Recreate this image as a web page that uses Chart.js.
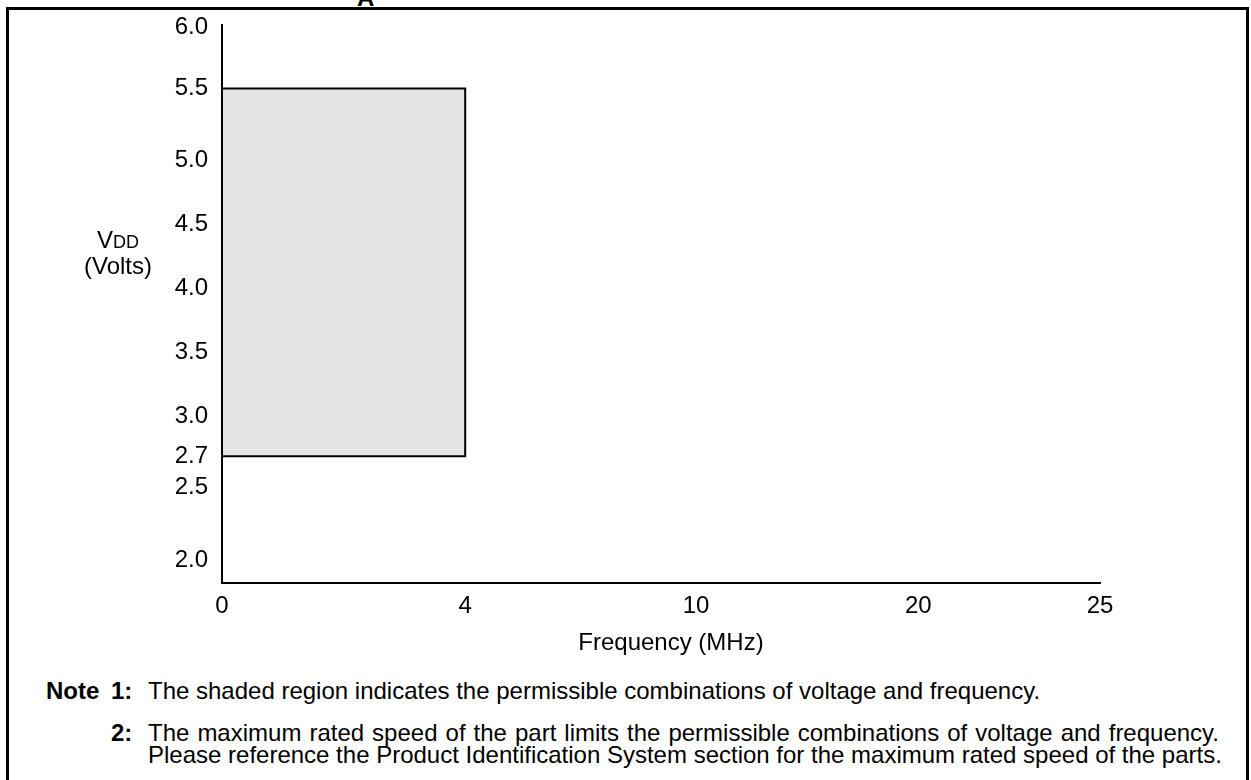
<!DOCTYPE html>
<html>
<head>
<meta charset="utf-8">
<script src="https://cdn.jsdelivr.net/npm/chart.js@4.4.1/dist/chart.umd.min.js"></script>
<style>
  html, body { margin: 0; padding: 0; background: #fff; }
  body { width: 1251px; height: 780px; overflow: hidden; position: relative;
         font-family: "Liberation Sans", Arial, sans-serif; color: #000; }
  #frame { position: absolute; left: 6px; top: 7px; width: 1243px; height: 820px;
           border: 3px solid #000; box-sizing: border-box; }
  #cut { position: absolute; left: 357px; top: -16px; font-size: 24px; font-weight: bold; }
  #wrap { position: absolute; left: 0; top: 0; width: 1251px; height: 660px; }
  #ylab { position: absolute; left: 78px; top: 228px; width: 80px; text-align: center;
          font-size: 24px; line-height: 24px; }
  #ylab small { font-size: 18px; }
  #xlab { position: absolute; left: 571px; top: 629px; width: 200px; text-align: center;
          font-size: 24px; line-height: 26px; }
  .note { position: absolute; font-size: 24px; line-height: 22px; white-space: nowrap; }
  .txt { position: absolute; left: 148px; width: 1071px; font-size: 24px; line-height: 22px;
         white-space: nowrap; }
  .just { text-align: justify; text-align-last: justify; }
</style>
</head>
<body>
<div id="frame"></div>
<div id="cut">A</div>
<div id="wrap"><canvas id="chart"></canvas></div>
<div id="ylab">V<small>DD</small><br>(Volts)</div>
<div id="xlab">Frequency (MHz)</div>

<div class="note" style="left:46px; top:680px;"><b>Note</b></div>
<div class="note" style="left:111px; top:680px;"><b>1:</b></div>
<div class="txt" style="top:680px;">The shaded region indicates the permissible combinations of voltage and frequency.</div>
<div class="note" style="left:111px; top:722px;"><b>2:</b></div>
<div class="txt just" style="top:722px;">The maximum rated speed of the part limits the permissible combinations of voltage and frequency.</div>
<div class="txt" style="top:744px;">Please reference the Product Identification System section for the maximum rated speed of the parts.</div>

<script>
// axis ticks (the graph is a schematic, ticks are not evenly spaced)
const freqTicks = [0, 4, 10, 20, 25];
const vddTicks = [2.0, 2.5, 2.7, 3.0, 3.5, 4.0, 4.5, 5.0, 5.5, 6.0];

// shaded operating region
const regionFreq = [0, 4];       // MHz
const regionVdd = [2.7, 5.5];    // Volts

// where each value sits along its axis (0 = start, 1 = end)
const knots = {
  x: [[0, 0], [4, 0.277], [10, 0.540], [20, 0.793], [25, 1]],
  y: [[1.83, 0], [2.0, 0.041], [2.5, 0.171], [2.7, 0.227], [3.0, 0.299], [3.5, 0.414],
      [4.0, 0.528], [4.5, 0.643], [5.0, 0.758], [5.5, 0.886], [6.0, 0.995], [6.02, 1]]
};

class SchematicScale extends Chart.LinearScale {
  toDecimal(v) {
    const k = knots[this.id];
    if (v <= k[0][0]) return k[0][1];
    for (let i = 1; i < k.length; i++) {
      if (v <= k[i][0]) {
        const t = (v - k[i - 1][0]) / (k[i][0] - k[i - 1][0]);
        return k[i - 1][1] + t * (k[i][1] - k[i - 1][1]);
      }
    }
    return k[k.length - 1][1];
  }
  getPixelForValue(v) {
    return this.getPixelForDecimal(this.toDecimal(v));
  }
  getValueForPixel(p) {
    const d = this.getDecimalForPixel(p);
    const k = knots[this.id];
    for (let i = 1; i < k.length; i++) {
      if (d <= k[i][1]) {
        const t = (d - k[i - 1][1]) / (k[i][1] - k[i - 1][1]);
        return k[i - 1][0] + t * (k[i][0] - k[i - 1][0]);
      }
    }
    return k[k.length - 1][0];
  }
}
SchematicScale.id = 'schematic';
SchematicScale.defaults = Chart.LinearScale.defaults;
Chart.register(SchematicScale);

const corners = [
  { x: regionFreq[0], y: regionVdd[0] },
  { x: regionFreq[1], y: regionVdd[0] },
  { x: regionFreq[1], y: regionVdd[1] },
  { x: regionFreq[0], y: regionVdd[1] },
  { x: regionFreq[0], y: regionVdd[0] }
];

const tickFont = { family: '"Liberation Sans", Arial, sans-serif', size: 24 };

new Chart(document.getElementById('chart'), {
  type: 'scatter',
  data: {
    datasets: [{
      data: corners,
      showLine: true,
      borderColor: '#000',
      borderWidth: 2,
      backgroundColor: '#e4e4e4',
      fill: 'shape',
      pointRadius: 0,
      tension: 0
    }]
  },
  options: {
    responsive: true,
    maintainAspectRatio: false,
    animation: false,
    events: [],
    layout: { padding: { top: 25, right: 151, left: 0, bottom: 0 } },
    plugins: { legend: { display: false }, tooltip: { enabled: false } },
    scales: {
      x: {
        type: 'schematic',
        min: 0, max: 25,
        afterBuildTicks: s => { s.ticks = freqTicks.map(v => ({ value: v })); },
        afterFit: s => { s.height = 77; s.paddingLeft = 0; s.paddingRight = 0; },
        grid: { display: false, drawTicks: false },
        border: { display: true, color: '#000', width: 2 },
        ticks: { autoSkip: false, maxRotation: 0, padding: 9, color: '#000', font: tickFont,
                 callback: v => String(v) }
      },
      y: {
        type: 'schematic',
        min: 1.83, max: 6.02,
        afterBuildTicks: s => { s.ticks = vddTicks.map(v => ({ value: v })); },
        afterFit: s => { s.width = 222; s.paddingTop = 0; s.paddingBottom = 0; },
        grid: { display: false, drawTicks: false },
        border: { display: true, color: '#000', width: 2 },
        ticks: { autoSkip: false, padding: 14, color: '#000', font: tickFont,
                 callback: v => v.toFixed(1) }
      }
    }
  }
});
</script>
</body>
</html>
